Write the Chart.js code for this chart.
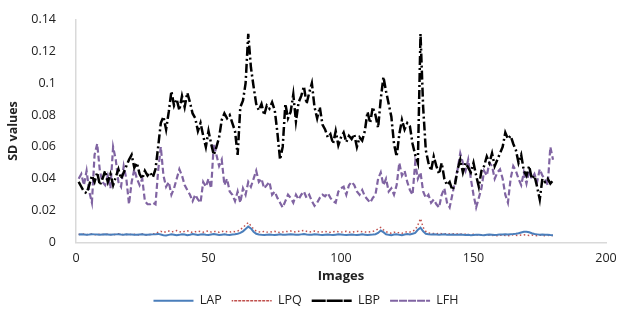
<!DOCTYPE html>
<html>
<head>
<meta charset="utf-8">
<script src="https://cdn.jsdelivr.net/npm/chart.js@4"></script>
<style>
html,body{margin:0;padding:0;background:#fff;}
#wrap{width:624px;height:322px;}
</style>
</head>
<body>
<div id="wrap"><canvas id="c" width="624" height="322"></canvas></div>
<script>
const seriesNames = ["LAP", "LPQ", "LBP", "LFH"];
const xTicks = [0, 50, 100, 150, 200];
const yTicks = [0, 0.02, 0.04, 0.06, 0.08, 0.1, 0.12, 0.14];

const LAP = [
0.0050,0.0051,0.0050,0.0049,0.0050,0.0052,0.0051,0.0050,0.0049,0.0050,
0.0051,0.0050,0.0048,0.0050,0.0051,0.0052,0.0050,0.0049,0.0051,0.0050,
0.0050,0.0049,0.0048,0.0050,0.0051,0.0049,0.0048,0.0050,0.0051,0.0052,
0.0054,0.0050,0.0046,0.0044,0.0048,0.0052,0.0049,0.0045,0.0048,0.0052,
0.0050,0.0046,0.0049,0.0053,0.0050,0.0047,0.0050,0.0052,0.0049,0.0047,
0.0050,0.0053,0.0050,0.0047,0.0049,0.0051,0.0048,0.0047,0.0050,0.0052,
0.0055,0.0060,0.0070,0.0085,0.0100,0.0088,0.0068,0.0055,0.0050,0.0048,
0.0047,0.0049,0.0050,0.0048,0.0047,0.0049,0.0051,0.0049,0.0048,0.0050,
0.0052,0.0050,0.0048,0.0049,0.0051,0.0053,0.0050,0.0048,0.0049,0.0051,
0.0050,0.0048,0.0047,0.0049,0.0050,0.0048,0.0047,0.0049,0.0051,0.0050,
0.0048,0.0047,0.0049,0.0050,0.0048,0.0047,0.0049,0.0051,0.0049,0.0047,
0.0049,0.0050,0.0052,0.0060,0.0075,0.0065,0.0052,0.0048,0.0046,0.0050,
0.0052,0.0048,0.0045,0.0050,0.0053,0.0050,0.0055,0.0060,0.0080,0.0093,
0.0070,0.0055,0.0052,0.0050,0.0051,0.0050,0.0049,0.0050,0.0051,0.0049,
0.0048,0.0050,0.0049,0.0048,0.0050,0.0049,0.0047,0.0048,0.0046,0.0047,
0.0048,0.0049,0.0047,0.0046,0.0048,0.0050,0.0049,0.0047,0.0048,0.0050,
0.0050,0.0051,0.0050,0.0052,0.0053,0.0055,0.0058,0.0063,0.0067,0.0068,
0.0064,0.0058,0.0053,0.0051,0.0049,0.0050,0.0048,0.0049,0.0047,0.0046
];

const LPQ = [
0.0052,0.0050,0.0053,0.0049,0.0051,0.0054,0.0050,0.0048,0.0052,0.0051,
0.0049,0.0053,0.0050,0.0047,0.0052,0.0055,0.0051,0.0048,0.0050,0.0052,
0.0049,0.0051,0.0046,0.0050,0.0053,0.0048,0.0045,0.0050,0.0054,0.0056,
0.0065,0.0070,0.0062,0.0068,0.0072,0.0066,0.0070,0.0075,0.0068,0.0064,
0.0070,0.0074,0.0067,0.0063,0.0068,0.0072,0.0069,0.0065,0.0070,0.0073,
0.0066,0.0070,0.0068,0.0064,0.0069,0.0072,0.0067,0.0065,0.0070,0.0068,
0.0072,0.0080,0.0095,0.0110,0.0125,0.0105,0.0085,0.0072,0.0068,0.0065,
0.0070,0.0066,0.0064,0.0068,0.0070,0.0065,0.0063,0.0066,0.0068,0.0070,
0.0072,0.0068,0.0066,0.0070,0.0073,0.0076,0.0070,0.0066,0.0068,0.0072,
0.0068,0.0065,0.0067,0.0070,0.0066,0.0064,0.0068,0.0070,0.0067,0.0065,
0.0068,0.0070,0.0066,0.0064,0.0067,0.0069,0.0071,0.0068,0.0066,0.0065,
0.0068,0.0070,0.0075,0.0085,0.0095,0.0080,0.0068,0.0062,0.0058,0.0064,
0.0066,0.0060,0.0058,0.0064,0.0068,0.0066,0.0070,0.0080,0.0110,0.0150,
0.0095,0.0070,0.0060,0.0058,0.0056,0.0055,0.0057,0.0055,0.0054,0.0056,
0.0053,0.0055,0.0052,0.0054,0.0053,0.0051,0.0052,0.0050,0.0049,0.0051,
0.0048,0.0047,0.0049,0.0046,0.0045,0.0047,0.0044,0.0046,0.0043,0.0045,
0.0047,0.0044,0.0042,0.0046,0.0048,0.0045,0.0043,0.0047,0.0049,0.0046,
0.0044,0.0047,0.0045,0.0043,0.0046,0.0044,0.0042,0.0045,0.0043,0.0044
];

const LBP = [
0.038,0.035,0.032,0.031,0.036,0.042,0.038,0.044,0.036,0.040,
0.045,0.038,0.043,0.036,0.041,0.046,0.040,0.044,0.048,0.052,
0.055,0.047,0.050,0.043,0.040,0.045,0.042,0.044,0.041,0.046,
0.060,0.075,0.079,0.071,0.082,0.095,0.086,0.090,0.083,0.092,
0.085,0.094,0.088,0.081,0.078,0.070,0.075,0.067,0.060,0.070,
0.062,0.055,0.060,0.066,0.077,0.081,0.078,0.080,0.075,0.070,
0.055,0.085,0.089,0.100,0.131,0.110,0.098,0.087,0.083,0.087,
0.080,0.086,0.084,0.088,0.083,0.069,0.052,0.060,0.087,0.078,
0.082,0.093,0.076,0.088,0.092,0.098,0.087,0.094,0.100,0.085,
0.078,0.085,0.074,0.071,0.066,0.068,0.062,0.070,0.061,0.066,
0.069,0.063,0.067,0.065,0.068,0.060,0.066,0.064,0.070,0.082,
0.075,0.085,0.080,0.072,0.090,0.104,0.095,0.087,0.079,0.062,
0.054,0.068,0.077,0.071,0.075,0.073,0.062,0.055,0.050,0.131,
0.085,0.058,0.050,0.045,0.054,0.048,0.043,0.050,0.040,0.036,
0.038,0.033,0.036,0.046,0.052,0.044,0.050,0.047,0.044,0.050,
0.042,0.035,0.045,0.048,0.054,0.050,0.056,0.048,0.052,0.056,
0.060,0.069,0.065,0.067,0.062,0.058,0.050,0.055,0.045,0.042,
0.048,0.040,0.042,0.035,0.027,0.040,0.038,0.040,0.037,0.039
];

const LFH = [
0.040,0.043,0.036,0.045,0.032,0.025,0.055,0.062,0.045,0.038,
0.036,0.042,0.034,0.060,0.052,0.038,0.035,0.048,0.040,0.024,
0.038,0.046,0.040,0.036,0.040,0.026,0.024,0.024,0.025,0.024,
0.045,0.060,0.042,0.035,0.038,0.030,0.034,0.040,0.046,0.042,
0.036,0.033,0.030,0.026,0.030,0.027,0.025,0.038,0.035,0.040,
0.034,0.062,0.055,0.048,0.052,0.036,0.040,0.032,0.030,0.026,
0.032,0.025,0.034,0.030,0.038,0.035,0.040,0.045,0.038,0.040,
0.034,0.036,0.038,0.030,0.032,0.028,0.025,0.022,0.026,0.030,
0.028,0.025,0.030,0.027,0.030,0.032,0.028,0.030,0.026,0.023,
0.025,0.028,0.030,0.029,0.031,0.028,0.026,0.025,0.032,0.034,
0.035,0.030,0.036,0.038,0.036,0.032,0.030,0.033,0.029,0.027,
0.025,0.028,0.030,0.040,0.044,0.036,0.040,0.032,0.034,0.030,
0.036,0.050,0.042,0.045,0.038,0.033,0.030,0.050,0.040,0.044,
0.032,0.028,0.030,0.025,0.027,0.024,0.022,0.030,0.034,0.025,
0.022,0.030,0.038,0.046,0.056,0.050,0.045,0.052,0.040,0.030,
0.022,0.028,0.034,0.045,0.042,0.050,0.048,0.040,0.044,0.046,
0.040,0.030,0.025,0.040,0.048,0.045,0.040,0.036,0.044,0.037,
0.045,0.040,0.043,0.038,0.046,0.042,0.040,0.036,0.060,0.052
];

function toPoints(arr){ return arr.map((v,i)=>({x:i+1, y:v})); }

const FONT = "'Open Sans', 'Liberation Sans', sans-serif";

new Chart(document.getElementById('c'), {
  type: 'line',
  data: {
    datasets: [
      {label: seriesNames[0], data: toPoints(LAP), borderColor: '#4a7ebb', backgroundColor: 'rgba(0,0,0,0)', borderWidth: 2, borderDash: [], pointRadius: 0, tension: 0},
      {label: seriesNames[1], data: toPoints(LPQ), borderColor: '#c0504d', backgroundColor: 'rgba(0,0,0,0)', borderWidth: 1.5, borderDash: [1.5, 2.5], pointRadius: 0, tension: 0},
      {label: seriesNames[2], data: toPoints(LBP), borderColor: '#000000', backgroundColor: 'rgba(0,0,0,0)', borderWidth: 2.5, borderDash: [9, 3, 2, 3], pointRadius: 0, tension: 0},
      {label: seriesNames[3], data: toPoints(LFH), borderColor: '#8064a2', backgroundColor: 'rgba(0,0,0,0)', borderWidth: 2.2, borderDash: [6, 3], pointRadius: 0, tension: 0}
    ]
  },
  options: {
    responsive: false,
    animation: false,
    layout: {padding: {left: 6, right: 18, top: 5, bottom: 5}},
    plugins: {
      legend: {
        position: 'bottom',
        labels: {
          usePointStyle: false,
          boxWidth: 40,
          boxHeight: 0,
          color: '#222',
          font: {family: FONT, size: 12.5},
          padding: 10
        }
      },
      tooltip: {enabled: false}
    },
    scales: {
      x: {
        type: 'linear',
        min: xTicks[0], max: xTicks[xTicks.length-1],
        afterBuildTicks: s => { s.ticks = xTicks.map(v => ({value: v})); },
        afterFit: s => { s.height = 42; },
        grid: {display: false},
        border: {display: true, color: '#d9d9d9', width: 1.5},
        ticks: {color: '#222', font: {family: FONT, size: 12.5}, padding: 0, maxRotation: 0},
        title: {display: true, text: 'Images', color: '#222', font: {family: FONT, size: 13, weight: 'bold'}, padding: {top: 2, bottom: 0}}
      },
      y: {
        min: yTicks[0], max: yTicks[yTicks.length-1],
        afterBuildTicks: s => { s.ticks = yTicks.map(v => ({value: v})); },
        afterFit: s => { s.width = 70; },
        grid: {display: false},
        border: {display: true, color: '#d9d9d9', width: 1.5},
        ticks: {color: '#222', font: {family: FONT, size: 12.5}, padding: 12,
          callback: v => String(Number(v.toFixed(2)))},
        title: {display: true, text: 'SD values', color: '#222', font: {family: FONT, size: 12.5, weight: 'bold'}, padding: {top: 0, bottom: 4}}
      }
    }
  }
});
</script>
</body>
</html>
